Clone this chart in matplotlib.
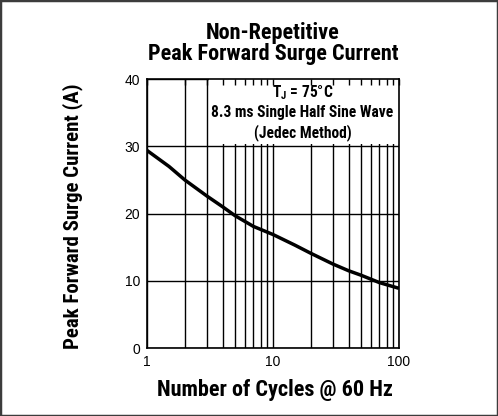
import matplotlib
matplotlib.use('Agg')
import matplotlib.pyplot as plt
from matplotlib.patches import Rectangle
from matplotlib.ticker import FixedLocator, NullFormatter

# values
cycles = [1, 1.5, 2, 3, 4, 5, 7, 10, 15, 20, 30, 40, 50, 70, 100]
surge_current = [29.4, 27.0, 25.0, 22.6, 21.0, 19.7, 18.1, 16.9, 15.3, 14.1, 12.5, 11.5, 10.85, 9.75, 8.9]

x_major = [1, 10, 100]
x_minor = [2, 3, 4, 5, 6, 7, 8, 9, 20, 30, 40, 50, 60, 70, 80, 90]
y_ticks = [0, 10, 20, 30, 40]

cond = ['Roboto Condensed', 'DejaVu Sans']
plain = ['Liberation Sans', 'DejaVu Sans']

fig = plt.figure(figsize=(4.98, 4.16), dpi=100)
ax = fig.add_axes([0.295, 0.163, 0.506, 0.647])

ax.set_xscale('log')
ax.set_xlim(1, 100)
ax.set_ylim(0, 40)
ax.xaxis.set_major_locator(FixedLocator(x_major))
ax.xaxis.set_minor_locator(FixedLocator(x_minor))
ax.xaxis.set_minor_formatter(NullFormatter())
ax.set_xticks(x_major)
ax.set_xticklabels([str(v) for v in x_major], family=plain, fontsize=10)
ax.set_yticks(y_ticks)
ax.set_yticklabels([str(v) for v in y_ticks], family=plain, fontsize=10)
ax.tick_params(which='both', length=0, pad=5)

ax.set_axisbelow(True)
ax.grid(True, which='both', axis='x', color='black', linewidth=1.0)
ax.grid(True, which='major', axis='y', color='black', linewidth=1.0)
for s in ax.spines.values():
    s.set_linewidth(1.2)

# white label area over the grid
ax.add_patch(Rectangle((3.12, 30.4), 100 - 3.12, 9.6, facecolor='white',
                       edgecolor='none', zorder=1))

ax.plot(cycles, surge_current, color='black', linewidth=2.5, zorder=3,
        solid_capstyle='butt', solid_joinstyle='round')

# tick marks along the top of the label area
top = ax.twiny()
top.set_xscale('log')
top.set_xlim(1, 100)
top.xaxis.set_major_locator(FixedLocator(x_major))
top.xaxis.set_minor_locator(FixedLocator(x_minor))
top.tick_params(which='both', direction='in', length=4, width=1.0,
                labeltop=False, top=True)
top.set_xticklabels([])
for s in top.spines.values():
    s.set_visible(False)

box_kw = dict(transform=ax.transAxes, ha='center', va='center', family=cond,
              fontweight='bold', fontsize=11.2)
ax.text(0.617, 0.948, 'T$_\\mathregular{J}$ = 75°C', **box_kw)
ax.text(0.617, 0.874, '8.3 ms Single Half Sine Wave', **box_kw)
ax.text(0.617, 0.803, '(Jedec Method)', **box_kw)

lab_kw = dict(ha='center', va='center', family=cond, fontweight='bold')
fig.text(273 / 498, 1 - 33 / 416, 'Non-Repetitive', fontsize=16, **lab_kw)
fig.text(273 / 498, 1 - 54 / 416, 'Peak Forward Surge Current', fontsize=16, **lab_kw)
fig.text(275 / 498, 1 - 390 / 416, 'Number of Cycles @ 60 Hz', fontsize=16, **lab_kw)
fig.text(73 / 498, 1 - 216 / 416, 'Peak Forward Surge Current (A)', rotation=90,
         fontsize=15, **lab_kw)

fig.patches.append(Rectangle((0, 0), 1, 1, transform=fig.transFigure,
                             fill=False, edgecolor='#3c3c3c', linewidth=2.5))

fig.savefig('out.png', dpi=100)
